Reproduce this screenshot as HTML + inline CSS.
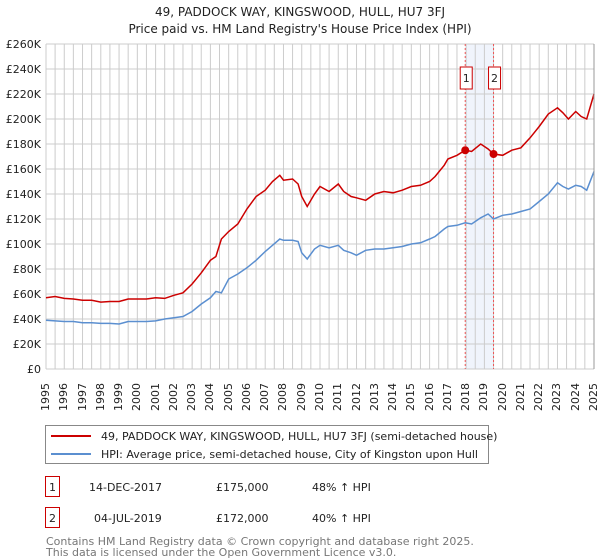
<!DOCTYPE html>
<html><head><meta charset="utf-8"><style>
body{margin:0;background:#fff;font-family:"Liberation Sans","DejaVu Sans",sans-serif;position:relative;width:600px;height:560px;overflow:hidden;}
svg text{font-family:"DejaVu Sans","Liberation Sans",sans-serif;}
#xlabels{position:absolute;left:0;top:0;width:600px;height:560px;pointer-events:none;}
.yr{position:absolute;top:375px;height:36px;width:14px;font:11px "DejaVu Sans","Liberation Sans",sans-serif;color:#222;writing-mode:vertical-rl;transform:rotate(180deg);text-align:left;line-height:14px;}
</style></head><body>
<svg width="600" height="560" xmlns="http://www.w3.org/2000/svg" style="position:absolute;left:0;top:0">
<text x="300" y="16" text-anchor="middle" font-size="12" fill="#222">49, PADDOCK WAY, KINGSWOOD, HULL, HU7 3FJ</text>
<text x="300" y="33" text-anchor="middle" font-size="12" fill="#222">Price paid vs. HM Land Registry's House Price Index (HPI)</text>
<g id="grid"></g>
<g id="marks"></g>
<g id="legend">
<rect x="45.5" y="425.5" width="443" height="38" fill="#fff" stroke="#888"/>
<line x1="51" y1="436" x2="91" y2="436" stroke="#cc0000" stroke-width="2"/>
<text x="101" y="440" font-size="11" fill="#222">49, PADDOCK WAY, KINGSWOOD, HULL, HU7 3FJ (semi-detached house)</text>
<line x1="51" y1="454" x2="91" y2="454" stroke="#5b8fd0" stroke-width="2"/>
<text x="101" y="458" font-size="11" fill="#222">HPI: Average price, semi-detached house, City of Kingston upon Hull</text>
</g>
<g font-size="11" fill="#222">
<rect x="45.5" y="476.5" width="14" height="20" fill="#fff" stroke="#cc0000"/>
<text x="52.5" y="491" text-anchor="middle">1</text>
<text x="89" y="491">14-DEC-2017</text>
<text x="216" y="491">£175,000</text>
<text x="312" y="491">48% ↑ HPI</text>
</g>
<g font-size="11" fill="#222">
<rect x="45.5" y="507.5" width="14" height="20" fill="#fff" stroke="#cc0000"/>
<text x="52.5" y="522" text-anchor="middle">2</text>
<text x="94" y="522">04-JUL-2019</text>
<text x="216" y="522">£172,000</text>
<text x="312" y="522">40% ↑ HPI</text>
</g>
<text x="46" y="545" font-size="11" fill="#777">Contains HM Land Registry data © Crown copyright and database right 2025.</text>
<text x="46" y="556" font-size="11" fill="#777">This data is licensed under the Open Government Licence v3.0.</text>
</svg>
<div id="xlabels"></div>
<script>
const yearTicks=[1995,1996,1997,1998,1999,2000,2001,2002,2003,2004,2005,2006,2007,2008,2009,2010,2011,2012,2013,2014,2015,2016,2017,2018,2019,2020,2021,2022,2023,2024,2025];
const priceTicks=[0,20,40,60,80,100,120,140,160,180,200,220,240,260];
const redYears=[1995,1995.5,1996,1996.5,1997,1997.5,1998,1998.5,1999,1999.5,2000,2000.5,2001,2001.5,2002,2002.5,2003,2003.5,2004,2004.3,2004.6,2005,2005.5,2006,2006.5,2007,2007.4,2007.8,2008,2008.5,2008.8,2009,2009.3,2009.7,2010,2010.5,2011,2011.3,2011.7,2012,2012.5,2013,2013.5,2014,2014.5,2015,2015.5,2016,2016.3,2016.8,2017,2017.5,2017.95,2018.3,2018.8,2019.2,2019.5,2020,2020.5,2021,2021.5,2022,2022.5,2023,2023.3,2023.6,2024,2024.3,2024.6,2025];
const redVals=[57,58,56.5,56,55,55,53.5,54,54,56,56,56,57,56.5,59,61,68,77,87,90,104,110,116,128,138,143,150,155,151,152,148,138,130,140,146,142,148,142,138,137,135,140,142,141,143,146,147,150,154,163,168,171,175,174,180,176,172,171,175,177,185,194,204,209,205,200,206,202,200,220];
const blueYears=[1995,1995.5,1996,1996.5,1997,1997.5,1998,1998.5,1999,1999.5,2000,2000.5,2001,2001.5,2002,2002.5,2003,2003.5,2004,2004.3,2004.6,2005,2005.5,2006,2006.5,2007,2007.4,2007.8,2008,2008.5,2008.8,2009,2009.3,2009.7,2010,2010.5,2011,2011.3,2011.7,2012,2012.5,2013,2013.5,2014,2014.5,2015,2015.5,2016,2016.3,2016.8,2017,2017.5,2017.95,2018.3,2018.8,2019.2,2019.5,2020,2020.5,2021,2021.5,2022,2022.5,2023,2023.3,2023.6,2024,2024.3,2024.6,2025];
const blueVals=[39,38.5,38,38,37,37,36.5,36.5,36,38,38,38,38.5,40,41,42,46,52,57,62,61,72,76,81,87,94,99,104,103,103,102,93,88,96,99,97,99,95,93,91,95,96,96,97,98,100,101,104,106,112,114,115,117,116,121,124,120,123,124,126,128,134,140,149,146,144,147,146,143,158];
const saleYears=[2017.95,2019.5];
const saleVals=[175,172];
const saleLabels=["1","2"];
const NS="http://www.w3.org/2000/svg";
const X0=46,X1=594,Y0=369,Y1=44;
const xs=y=>X0+(y-1995)/(2025-1995)*(X1-X0);
const ys=v=>Y0-v/260*(Y0-Y1);
function mk(t,a,p){const e=document.createElementNS(NS,t);for(const k in a)e.setAttribute(k,a[k]);p.appendChild(e);return e;}
const grid=document.getElementById('grid'),marks=document.getElementById('marks'),xl=document.getElementById('xlabels');
mk('rect',{x:xs(saleYears[0]),y:Y1,width:xs(saleYears[1])-xs(saleYears[0]),height:Y0-Y1,fill:'#f0f4fc'},grid);
yearTicks.forEach(y=>{
 const l=mk('line',{x1:xs(y),x2:xs(y),y1:Y1,y2:Y0,stroke:'#ccc','stroke-width':1},grid);
 
 
 if(y!==2025)mk('line',{x1:xs(y)+9.1,x2:xs(y)+9.1,y1:Y1,y2:Y0,stroke:'#ccc','stroke-width':1},grid);
 const d=document.createElement('div');
 d.className='yr';
 d.style.left=(xs(y)-7)+'px';
 d.textContent=y;
 
 
 xl.appendChild(d);
});
priceTicks.forEach(v=>{
 const l=mk('line',{x1:X0,x2:X1,y1:ys(v),y2:ys(v),stroke:'#ccc','stroke-width':1},grid);
 
 
 const t=mk('text',{x:41,y:ys(v)+4,'font-size':11,'text-anchor':'end',fill:'#222'},grid);
 t.textContent=v===0?'£0':'£'+v+'K';
 
 
});
saleYears.forEach((y,i)=>{
 const l=mk('line',{x1:xs(y),x2:xs(y),y1:Y1,y2:Y0,stroke:'#e55','stroke-width':1,'stroke-dasharray':'2,2'},marks);
 
 
 const bx=xs(y)-5;
 const r=mk('rect',{x:bx,y:67,width:12,height:22,fill:'#fff',stroke:'#cc0000'},marks);
 
 
 const t=mk('text',{x:bx+6,y:82,'font-size':11,'text-anchor':'middle',fill:'#222'},marks);
 t.textContent=saleLabels[i];
 
 
});
function line(xsA,vs,c,name){
 const d=xsA.map((y,i)=>(i?'L':'M')+xs(y).toFixed(1)+','+ys(vs[i]).toFixed(1)).join('');
 const p=mk('path',{d,fill:'none',stroke:c,'stroke-width':1.5},marks);
 
 
}
line(blueYears,blueVals,'#5b8fd0','hpi-line');
line(redYears,redVals,'#cc0000','property-price-line');
saleYears.forEach((y,i)=>{
 const c=mk('circle',{cx:xs(y),cy:ys(saleVals[i]),r:4,fill:'#cc0000'},marks);
 
 
});
mk('line',{x1:X1,x2:X1,y1:Y1,y2:Y0,stroke:'#999'},marks);
</script>
</body></html>
